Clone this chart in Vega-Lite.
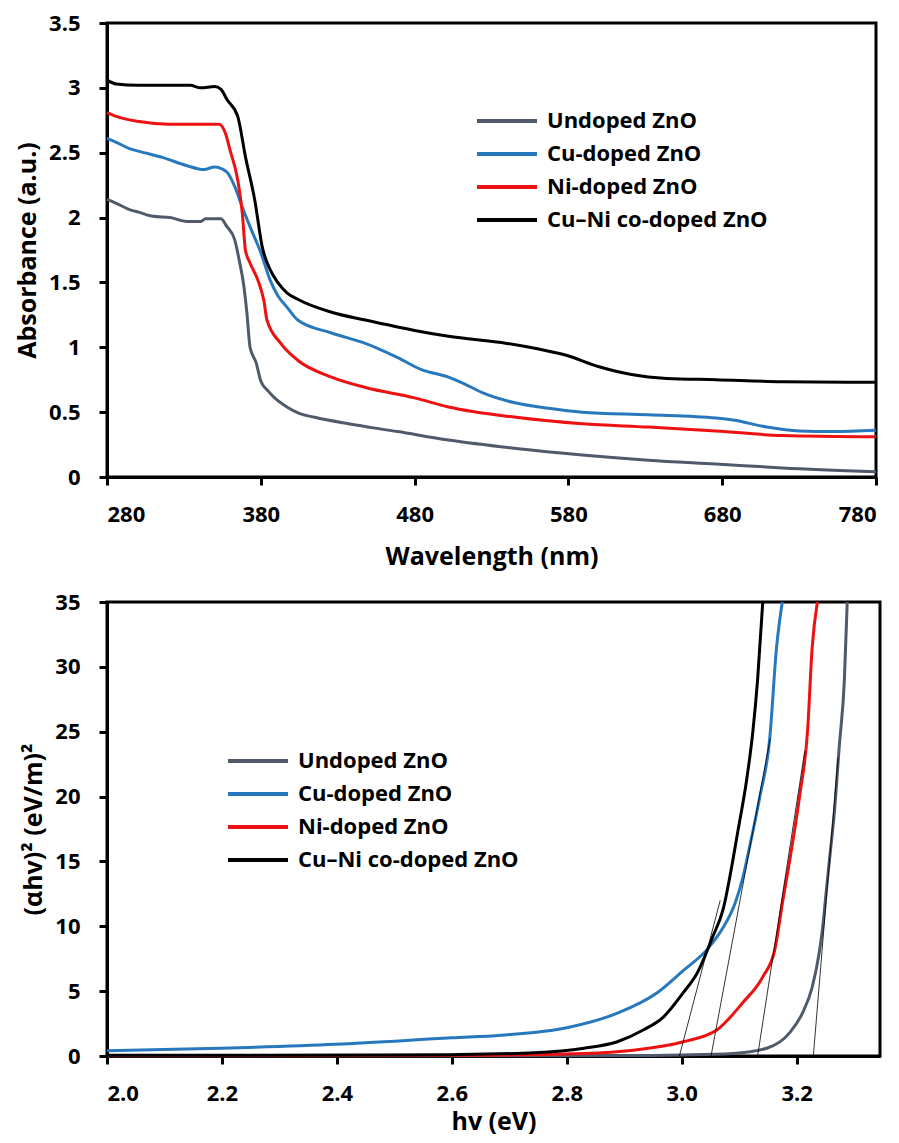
{
  "$schema": "https://vega.github.io/schema/vega-lite/v6.json",
  "padding": {"left": 14, "top": 10, "right": 15, "bottom": 2},
  "background": "white",
  "config": {
    "font": "Open Sans",
    "view": {"stroke": "black", "strokeWidth": 3},
    "axis": {
      "grid": false,
      "domainColor": "black", "domainWidth": 3,
      "tickColor": "black", "tickWidth": 3, "tickSize": 8,
      "labelFont": "Open Sans", "labelFontWeight": "bold", "labelFontSize": 22, "labelColor": "black",
      "titleFont": "Open Sans", "titleFontWeight": "bold", "titleFontSize": 25, "titleColor": "black"
    },
    "axisX": {"labelPadding": 19, "titlePadding": 19},
    "axisY": {"labelPadding": 19, "titlePadding": 8},
    "legend": {
      "labelFont": "Open Sans", "labelFontWeight": "bold", "labelFontSize": 22, "labelColor": "black", "labelLimit": 400,
      "symbolType": "M-3,0H3", "symbolSize": 400, "symbolStrokeWidth": 4, "labelOffset": 28, "rowPadding": 10, "title": null
    }
  },
  "resolve": {"scale": {"color": "independent"}, "legend": {"color": "independent"}},
  "spacing": 18,
  "vconcat": [
    {
      "width": 769, "height": 454,
      "data": {"values": [
        {"sample": "Undoped ZnO", "wl": 280, "a": 2.14}, {"sample": "Undoped ZnO", "wl": 286, "a": 2.11}, {"sample": "Undoped ZnO", "wl": 295, "a": 2.06}, {"sample": "Undoped ZnO", "wl": 301, "a": 2.04}, {"sample": "Undoped ZnO", "wl": 310, "a": 2.01}, {"sample": "Undoped ZnO", "wl": 321, "a": 2.0}, {"sample": "Undoped ZnO", "wl": 332, "a": 1.97}, {"sample": "Undoped ZnO", "wl": 341, "a": 1.97}, {"sample": "Undoped ZnO", "wl": 344, "a": 1.99}, {"sample": "Undoped ZnO", "wl": 354, "a": 1.99}, {"sample": "Undoped ZnO", "wl": 358, "a": 1.93}, {"sample": "Undoped ZnO", "wl": 363, "a": 1.83}, {"sample": "Undoped ZnO", "wl": 366, "a": 1.67}, {"sample": "Undoped ZnO", "wl": 369, "a": 1.47}, {"sample": "Undoped ZnO", "wl": 371, "a": 1.26}, {"sample": "Undoped ZnO", "wl": 373, "a": 1.0}, {"sample": "Undoped ZnO", "wl": 377, "a": 0.88}, {"sample": "Undoped ZnO", "wl": 380, "a": 0.74}, {"sample": "Undoped ZnO", "wl": 385, "a": 0.66}, {"sample": "Undoped ZnO", "wl": 389, "a": 0.61}, {"sample": "Undoped ZnO", "wl": 397, "a": 0.54}, {"sample": "Undoped ZnO", "wl": 405, "a": 0.49}, {"sample": "Undoped ZnO", "wl": 415, "a": 0.46}, {"sample": "Undoped ZnO", "wl": 437, "a": 0.41}, {"sample": "Undoped ZnO", "wl": 469, "a": 0.35}, {"sample": "Undoped ZnO", "wl": 502, "a": 0.285}, {"sample": "Undoped ZnO", "wl": 546, "a": 0.22}, {"sample": "Undoped ZnO", "wl": 589, "a": 0.17}, {"sample": "Undoped ZnO", "wl": 632, "a": 0.13}, {"sample": "Undoped ZnO", "wl": 676, "a": 0.1}, {"sample": "Undoped ZnO", "wl": 719, "a": 0.07}, {"sample": "Undoped ZnO", "wl": 780, "a": 0.04},
        {"sample": "Cu-doped ZnO", "wl": 280, "a": 2.61}, {"sample": "Cu-doped ZnO", "wl": 286, "a": 2.58}, {"sample": "Cu-doped ZnO", "wl": 295, "a": 2.53}, {"sample": "Cu-doped ZnO", "wl": 301, "a": 2.51}, {"sample": "Cu-doped ZnO", "wl": 317, "a": 2.46}, {"sample": "Cu-doped ZnO", "wl": 332, "a": 2.4}, {"sample": "Cu-doped ZnO", "wl": 343, "a": 2.37}, {"sample": "Cu-doped ZnO", "wl": 350, "a": 2.39}, {"sample": "Cu-doped ZnO", "wl": 358, "a": 2.35}, {"sample": "Cu-doped ZnO", "wl": 363, "a": 2.24}, {"sample": "Cu-doped ZnO", "wl": 368, "a": 2.08}, {"sample": "Cu-doped ZnO", "wl": 373, "a": 1.93}, {"sample": "Cu-doped ZnO", "wl": 380, "a": 1.73}, {"sample": "Cu-doped ZnO", "wl": 386, "a": 1.52}, {"sample": "Cu-doped ZnO", "wl": 391, "a": 1.4}, {"sample": "Cu-doped ZnO", "wl": 397, "a": 1.31}, {"sample": "Cu-doped ZnO", "wl": 404, "a": 1.21}, {"sample": "Cu-doped ZnO", "wl": 426, "a": 1.11}, {"sample": "Cu-doped ZnO", "wl": 448, "a": 1.03}, {"sample": "Cu-doped ZnO", "wl": 469, "a": 0.92}, {"sample": "Cu-doped ZnO", "wl": 484, "a": 0.83}, {"sample": "Cu-doped ZnO", "wl": 502, "a": 0.77}, {"sample": "Cu-doped ZnO", "wl": 512, "a": 0.72}, {"sample": "Cu-doped ZnO", "wl": 524, "a": 0.65}, {"sample": "Cu-doped ZnO", "wl": 546, "a": 0.57}, {"sample": "Cu-doped ZnO", "wl": 567, "a": 0.53}, {"sample": "Cu-doped ZnO", "wl": 589, "a": 0.5}, {"sample": "Cu-doped ZnO", "wl": 632, "a": 0.48}, {"sample": "Cu-doped ZnO", "wl": 676, "a": 0.455}, {"sample": "Cu-doped ZnO", "wl": 687, "a": 0.44}, {"sample": "Cu-doped ZnO", "wl": 709, "a": 0.385}, {"sample": "Cu-doped ZnO", "wl": 730, "a": 0.355}, {"sample": "Cu-doped ZnO", "wl": 752, "a": 0.35}, {"sample": "Cu-doped ZnO", "wl": 780, "a": 0.36},
        {"sample": "Ni-doped ZnO", "wl": 280, "a": 2.81}, {"sample": "Ni-doped ZnO", "wl": 286, "a": 2.78}, {"sample": "Ni-doped ZnO", "wl": 301, "a": 2.74}, {"sample": "Ni-doped ZnO", "wl": 320, "a": 2.72}, {"sample": "Ni-doped ZnO", "wl": 353, "a": 2.72}, {"sample": "Ni-doped ZnO", "wl": 357, "a": 2.65}, {"sample": "Ni-doped ZnO", "wl": 360, "a": 2.52}, {"sample": "Ni-doped ZnO", "wl": 365, "a": 2.29}, {"sample": "Ni-doped ZnO", "wl": 368, "a": 2.03}, {"sample": "Ni-doped ZnO", "wl": 370, "a": 1.75}, {"sample": "Ni-doped ZnO", "wl": 373, "a": 1.65}, {"sample": "Ni-doped ZnO", "wl": 378, "a": 1.52}, {"sample": "Ni-doped ZnO", "wl": 382, "a": 1.36}, {"sample": "Ni-doped ZnO", "wl": 384, "a": 1.21}, {"sample": "Ni-doped ZnO", "wl": 393, "a": 1.03}, {"sample": "Ni-doped ZnO", "wl": 404, "a": 0.9}, {"sample": "Ni-doped ZnO", "wl": 426, "a": 0.77}, {"sample": "Ni-doped ZnO", "wl": 448, "a": 0.69}, {"sample": "Ni-doped ZnO", "wl": 480, "a": 0.61}, {"sample": "Ni-doped ZnO", "wl": 502, "a": 0.54}, {"sample": "Ni-doped ZnO", "wl": 546, "a": 0.46}, {"sample": "Ni-doped ZnO", "wl": 589, "a": 0.41}, {"sample": "Ni-doped ZnO", "wl": 632, "a": 0.385}, {"sample": "Ni-doped ZnO", "wl": 676, "a": 0.355}, {"sample": "Ni-doped ZnO", "wl": 719, "a": 0.32}, {"sample": "Ni-doped ZnO", "wl": 780, "a": 0.31},
        {"sample": "Cu–Ni co-doped ZnO", "wl": 280, "a": 3.06}, {"sample": "Cu–Ni co-doped ZnO", "wl": 286, "a": 3.03}, {"sample": "Cu–Ni co-doped ZnO", "wl": 300, "a": 3.02}, {"sample": "Cu–Ni co-doped ZnO", "wl": 334, "a": 3.02}, {"sample": "Cu–Ni co-doped ZnO", "wl": 341, "a": 3.0}, {"sample": "Cu–Ni co-doped ZnO", "wl": 350, "a": 3.01}, {"sample": "Cu–Ni co-doped ZnO", "wl": 354, "a": 2.99}, {"sample": "Cu–Ni co-doped ZnO", "wl": 358, "a": 2.91}, {"sample": "Cu–Ni co-doped ZnO", "wl": 365, "a": 2.78}, {"sample": "Cu–Ni co-doped ZnO", "wl": 370, "a": 2.47}, {"sample": "Cu–Ni co-doped ZnO", "wl": 376, "a": 2.14}, {"sample": "Cu–Ni co-doped ZnO", "wl": 381, "a": 1.77}, {"sample": "Cu–Ni co-doped ZnO", "wl": 386, "a": 1.6}, {"sample": "Cu–Ni co-doped ZnO", "wl": 391, "a": 1.5}, {"sample": "Cu–Ni co-doped ZnO", "wl": 397, "a": 1.42}, {"sample": "Cu–Ni co-doped ZnO", "wl": 404, "a": 1.37}, {"sample": "Cu–Ni co-doped ZnO", "wl": 426, "a": 1.27}, {"sample": "Cu–Ni co-doped ZnO", "wl": 448, "a": 1.21}, {"sample": "Cu–Ni co-doped ZnO", "wl": 480, "a": 1.13}, {"sample": "Cu–Ni co-doped ZnO", "wl": 502, "a": 1.085}, {"sample": "Cu–Ni co-doped ZnO", "wl": 540, "a": 1.03}, {"sample": "Cu–Ni co-doped ZnO", "wl": 559, "a": 0.99}, {"sample": "Cu–Ni co-doped ZnO", "wl": 578, "a": 0.94}, {"sample": "Cu–Ni co-doped ZnO", "wl": 600, "a": 0.85}, {"sample": "Cu–Ni co-doped ZnO", "wl": 621, "a": 0.79}, {"sample": "Cu–Ni co-doped ZnO", "wl": 644, "a": 0.76}, {"sample": "Cu–Ni co-doped ZnO", "wl": 676, "a": 0.75}, {"sample": "Cu–Ni co-doped ZnO", "wl": 719, "a": 0.735}, {"sample": "Cu–Ni co-doped ZnO", "wl": 780, "a": 0.73}
      ]},
      "mark": {"type": "line", "strokeWidth": 3, "interpolate": "monotone"},
      "encoding": {
        "x": {"field": "wl", "type": "quantitative", "scale": {"domain": [280, 780], "nice": false},
              "axis": {"values": [280, 380, 480, 580, 680, 780], "format": "d", "title": "Wavelength (nm)"}},
        "y": {"field": "a", "type": "quantitative", "scale": {"domain": [0, 3.5], "nice": false},
              "axis": {"values": [0, 0.5, 1, 1.5, 2, 2.5, 3, 3.5], "format": "~g", "title": "Absorbance (a.u.)"}},
        "color": {"field": "sample", "type": "nominal", "sort": ["Undoped ZnO", "Cu-doped ZnO", "Ni-doped ZnO", "Cu–Ni co-doped ZnO"],
                  "scale": {"domain": ["Undoped ZnO", "Cu-doped ZnO", "Ni-doped ZnO", "Cu–Ni co-doped ZnO"], "range": ["#4F5B6B", "#2878BE", "#EE1111", "#000000"]},
                  "legend": {"orient": "none", "legendX": 388, "legendY": 86}}
      }
    },
    {
      "width": 773, "height": 454,
      "layer": [
        {
          "data": {"values": [
            {"sample": "Undoped ZnO", "hv": 2.0, "v": 0.02}, {"sample": "Undoped ZnO", "hv": 2.9, "v": 0.03}, {"sample": "Undoped ZnO", "hv": 3.0, "v": 0.08}, {"sample": "Undoped ZnO", "hv": 3.089, "v": 0.2}, {"sample": "Undoped ZnO", "hv": 3.148, "v": 0.6}, {"sample": "Undoped ZnO", "hv": 3.188, "v": 1.8}, {"sample": "Undoped ZnO", "hv": 3.21, "v": 3.3}, {"sample": "Undoped ZnO", "hv": 3.227, "v": 5.3}, {"sample": "Undoped ZnO", "hv": 3.239, "v": 7.9}, {"sample": "Undoped ZnO", "hv": 3.246, "v": 10.2}, {"sample": "Undoped ZnO", "hv": 3.251, "v": 12.5}, {"sample": "Undoped ZnO", "hv": 3.258, "v": 15.5}, {"sample": "Undoped ZnO", "hv": 3.266, "v": 19.0}, {"sample": "Undoped ZnO", "hv": 3.274, "v": 23.8}, {"sample": "Undoped ZnO", "hv": 3.283, "v": 29.0}, {"sample": "Undoped ZnO", "hv": 3.288, "v": 35},
            {"sample": "Cu-doped ZnO", "hv": 2.0, "v": 0.4}, {"sample": "Cu-doped ZnO", "hv": 2.197, "v": 0.6}, {"sample": "Cu-doped ZnO", "hv": 2.398, "v": 0.9}, {"sample": "Cu-doped ZnO", "hv": 2.6, "v": 1.4}, {"sample": "Cu-doped ZnO", "hv": 2.686, "v": 1.6}, {"sample": "Cu-doped ZnO", "hv": 2.802, "v": 2.2}, {"sample": "Cu-doped ZnO", "hv": 2.888, "v": 3.3}, {"sample": "Cu-doped ZnO", "hv": 2.958, "v": 4.9}, {"sample": "Cu-doped ZnO", "hv": 3.003, "v": 6.6}, {"sample": "Cu-doped ZnO", "hv": 3.044, "v": 8.2}, {"sample": "Cu-doped ZnO", "hv": 3.072, "v": 9.9}, {"sample": "Cu-doped ZnO", "hv": 3.093, "v": 11.8}, {"sample": "Cu-doped ZnO", "hv": 3.106, "v": 13.7}, {"sample": "Cu-doped ZnO", "hv": 3.118, "v": 16.1}, {"sample": "Cu-doped ZnO", "hv": 3.136, "v": 20.0}, {"sample": "Cu-doped ZnO", "hv": 3.153, "v": 24.4}, {"sample": "Cu-doped ZnO", "hv": 3.165, "v": 31.5}, {"sample": "Cu-doped ZnO", "hv": 3.175, "v": 35},
            {"sample": "Ni-doped ZnO", "hv": 2.0, "v": 0.03}, {"sample": "Ni-doped ZnO", "hv": 2.6, "v": 0.05}, {"sample": "Ni-doped ZnO", "hv": 2.83, "v": 0.2}, {"sample": "Ni-doped ZnO", "hv": 2.916, "v": 0.45}, {"sample": "Ni-doped ZnO", "hv": 3.003, "v": 1.1}, {"sample": "Ni-doped ZnO", "hv": 3.061, "v": 2.0}, {"sample": "Ni-doped ZnO", "hv": 3.106, "v": 4.1}, {"sample": "Ni-doped ZnO", "hv": 3.141, "v": 6.1}, {"sample": "Ni-doped ZnO", "hv": 3.162, "v": 8.2}, {"sample": "Ni-doped ZnO", "hv": 3.176, "v": 12.0}, {"sample": "Ni-doped ZnO", "hv": 3.188, "v": 15.1}, {"sample": "Ni-doped ZnO", "hv": 3.205, "v": 20.0}, {"sample": "Ni-doped ZnO", "hv": 3.219, "v": 25.1}, {"sample": "Ni-doped ZnO", "hv": 3.227, "v": 31.5}, {"sample": "Ni-doped ZnO", "hv": 3.236, "v": 35},
            {"sample": "Cu–Ni co-doped ZnO", "hv": 2.0, "v": 0.05}, {"sample": "Cu–Ni co-doped ZnO", "hv": 2.5, "v": 0.07}, {"sample": "Cu–Ni co-doped ZnO", "hv": 2.6, "v": 0.1}, {"sample": "Cu–Ni co-doped ZnO", "hv": 2.743, "v": 0.25}, {"sample": "Cu–Ni co-doped ZnO", "hv": 2.83, "v": 0.6}, {"sample": "Cu–Ni co-doped ZnO", "hv": 2.888, "v": 1.1}, {"sample": "Cu–Ni co-doped ZnO", "hv": 2.933, "v": 2.0}, {"sample": "Cu–Ni co-doped ZnO", "hv": 2.968, "v": 3.0}, {"sample": "Cu–Ni co-doped ZnO", "hv": 3.003, "v": 4.9}, {"sample": "Cu–Ni co-doped ZnO", "hv": 3.027, "v": 6.4}, {"sample": "Cu–Ni co-doped ZnO", "hv": 3.054, "v": 9.2}, {"sample": "Cu–Ni co-doped ZnO", "hv": 3.072, "v": 11.3}, {"sample": "Cu–Ni co-doped ZnO", "hv": 3.089, "v": 15.1}, {"sample": "Cu–Ni co-doped ZnO", "hv": 3.098, "v": 17.4}, {"sample": "Cu–Ni co-doped ZnO", "hv": 3.113, "v": 21.3}, {"sample": "Cu–Ni co-doped ZnO", "hv": 3.124, "v": 25.1}, {"sample": "Cu–Ni co-doped ZnO", "hv": 3.132, "v": 29.0}, {"sample": "Cu–Ni co-doped ZnO", "hv": 3.141, "v": 35}
          ]},
          "mark": {"type": "line", "strokeWidth": 3, "interpolate": "monotone"},
          "encoding": {
            "x": {"field": "hv", "type": "quantitative", "scale": {"domain": [2.0, 3.345], "nice": false},
                  "axis": {"values": [2.0, 2.2, 2.4, 2.6, 2.8, 3.0, 3.2], "format": ".1f", "title": "hv (eV)", "titlePadding": 5}},
            "y": {"field": "v", "type": "quantitative", "scale": {"domain": [0, 35], "nice": false},
                  "axis": {"values": [0, 5, 10, 15, 20, 25, 30, 35], "format": "d", "title": "(αhv)² (eV/m)²"}},
            "color": {"field": "sample", "type": "nominal", "sort": ["Undoped ZnO", "Cu-doped ZnO", "Ni-doped ZnO", "Cu–Ni co-doped ZnO"],
                      "scale": {"domain": ["Undoped ZnO", "Cu-doped ZnO", "Ni-doped ZnO", "Cu–Ni co-doped ZnO"], "range": ["#4F5B6B", "#2878BE", "#EE1111", "#000000"]},
                      "legend": {"orient": "none", "legendX": 139, "legendY": 147}}
          }
        },
        {
          "data": {"values": [
            {"x1": 2.996, "y1": 0, "x2": 3.067, "y2": 12},
            {"x1": 3.051, "y1": 0, "x2": 3.154, "y2": 24.5},
            {"x1": 3.132, "y1": 0, "x2": 3.214, "y2": 23.5},
            {"x1": 3.229, "y1": 0, "x2": 3.272, "y2": 23}
          ]},
          "mark": {"type": "rule", "color": "black", "strokeWidth": 0.8},
          "encoding": {
            "x": {"field": "x1", "type": "quantitative"},
            "y": {"field": "y1", "type": "quantitative"},
            "x2": {"field": "x2"},
            "y2": {"field": "y2"}
          }
        }
      ]
    }
  ]
}
